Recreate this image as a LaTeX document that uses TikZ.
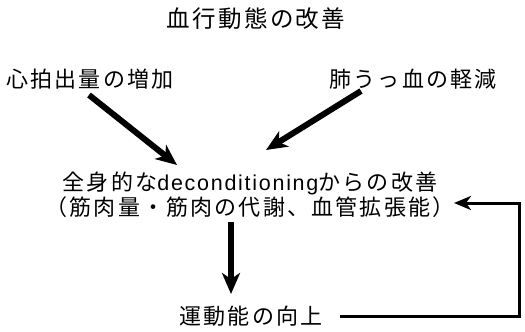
\documentclass[tikz,border=0pt]{standalone}
\usepackage{fontspec}
\setmainfont{Noto Sans CJK JP}[LetterSpace=10]
\newfontfamily\latinfont{Liberation Sans}[LetterSpace=8]
\usetikzlibrary{arrows.meta}
\tikzset{
  lbl/.style={inner sep=0pt, font=\fontsize{22}{25}\selectfont, align=center},
  ttl/.style={inner sep=0pt, font=\fontsize{23.5}{26}\selectfont},
  bigarrow/.style={line width=6pt, -{Stealth[length=21pt,width=18pt,inset=6pt]}},
  feed/.style={line width=3pt, -{Stealth[length=17pt,width=14pt,inset=5pt]}},
}
\begin{document}
\begin{tikzpicture}[x=1pt,y=-1pt]
\useasboundingbox (0,0) rectangle (525,332);
\node[ttl] (t) at (256,19) {血行動態の改善};
\node[lbl] (l) at (90,79) {心拍出量の増加};
\node[lbl] (r) at (413,79) {肺うっ血の軽減};
\node[lbl] (m) at (250,195) {全身的な{\latinfont\fontsize{21.5}{25}\selectfont deconditioning}からの改善\\（筋肉量・筋肉の代謝、血管拡張能）};
\node[lbl] (b) at (251,316) {運動能の向上};
\coordinate (a1s) at (89,95);
\coordinate (a1e) at (177,165);
\coordinate (a2s) at (361,91);
\coordinate (a2e) at (266,150);
\draw[bigarrow] (a1s) -- (a1e);
\draw[bigarrow] (a2s) -- (a2e);
\coordinate (d1) at (231,222);
\coordinate (d2) at (231,294);
\draw[bigarrow] (d1) -- (d2);
\coordinate (f1) at (340,316);
\coordinate (f2) at (519,316);
\coordinate (f3) at (519,203);
\coordinate (f4) at (454,203);
\draw[feed] (f1) -- (f2) -- (f3) -- (f4);
\end{tikzpicture}
\end{document}
